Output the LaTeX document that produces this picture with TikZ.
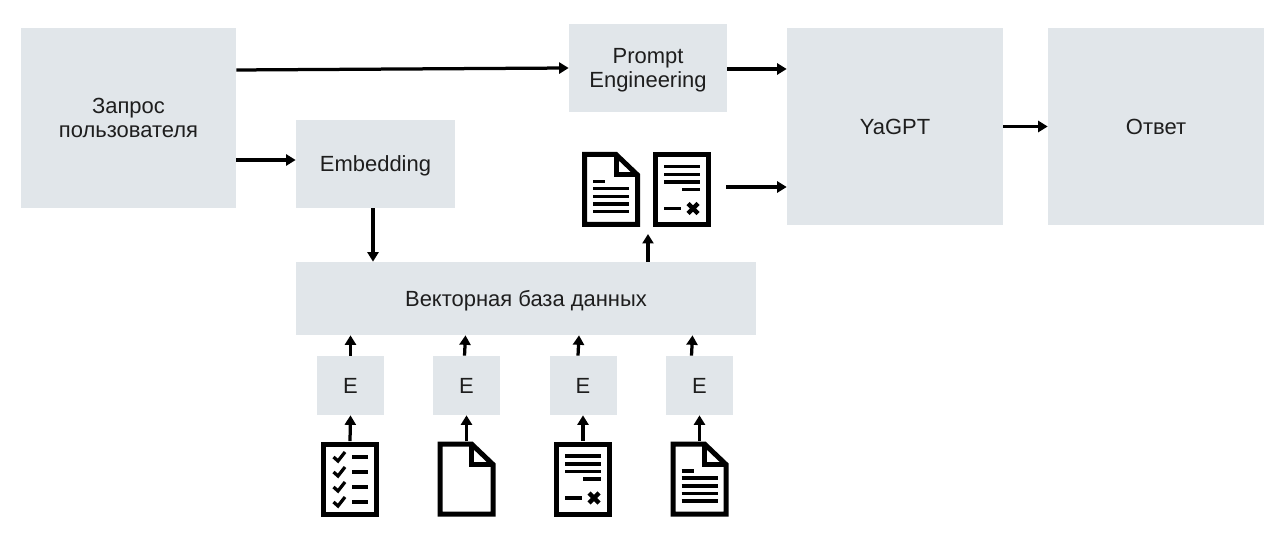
\documentclass[tikz,border=0pt]{standalone}
\usepackage{fontspec}
\setmainfont{Liberation Sans}
\usetikzlibrary{arrows.meta, calc, positioning}
\definecolor{boxgray}{RGB}{225,230,234}
\definecolor{textblack}{RGB}{30,30,30}

\tikzset{
    outline/.style={line width=0.1cm, miter limit=10},
    textline/.style={line width=0.07cm},
    iconbox/.style={minimum width=1.16cm, minimum height=1.5cm, inner sep=0pt},
    checklist/.pic={
        \node[iconbox] (-box) {};
        \draw[outline] (-26.5,-35) rectangle (26.5,35);
        \draw[textline] (2,-22) -- (18,-22);
        \draw[textline] (2,-7) -- (18,-7);
        \draw[textline] (2,8) -- (18,8);
        \draw[textline] (2,23) -- (18,23);
        \draw[line width=0.065cm] (-16.5,-22) -- (-12,-18) -- (-5,-27);
        \draw[line width=0.065cm] (-16.5,-7) -- (-12,-3) -- (-5,-12);
        \draw[line width=0.065cm] (-16.5,8) -- (-12,12) -- (-5,3);
        \draw[line width=0.065cm] (-16.5,23) -- (-12,27) -- (-5,18);
    },
    folded/.pic={
        \node[iconbox] (-box) {};
        \draw[outline] (-26.5,-35) -- (5,-35) -- (26.5,-14.5) -- (26.5,35) -- (-26.5,35) -- cycle;
        \draw[outline] (5,-35) -- (5,-14.5) -- (26.5,-14.5);
    },
    crossdoc/.pic={
        \node[iconbox] (-box) {};
        \draw[outline] (-26.5,-35) rectangle (26.5,35);
        \draw[textline] (-18,-23) -- (18,-23);
        \draw[textline] (-18,-15) -- (18,-15);
        \draw[textline] (-18,-7.5) -- (18,-7.5);
        \draw[textline] (0,0) -- (18,0);
        \draw[textline] (-18,19) -- (-1,19);
        \draw[line width=0.09cm] (6,14) -- (16,24);
        \draw[line width=0.09cm] (6,24) -- (16,14);
    },
    textdoc/.pic={
        \node[iconbox] (-box) {};
        \draw[outline] (-26.5,-35) -- (5,-35) -- (26.5,-14.5) -- (26.5,35) -- (-26.5,35) -- cycle;
        \draw[outline] (5,-35) -- (5,-14.5) -- (26.5,-14.5);
        \draw[textline] (-18,-8) -- (-6,-8);
        \draw[textline] (-18,-1) -- (18,-1);
        \draw[textline] (-18,7) -- (18,7);
        \draw[textline] (-18,14.5) -- (18,14.5);
        \draw[textline] (-18,22) -- (18,22);
    },
}

\begin{document}
\begin{tikzpicture}[
    x=0.02cm, y=-0.02cm,
    block/.style={fill=boxgray, inner sep=0pt, align=center, text=textblack,
        font=\fontsize{12.5}{13.8}\selectfont},
    ebox/.style={block, minimum width=1.34cm, minimum height=1.18cm},
    flow/.style={-{Triangle[length=0.19cm, width=0.22cm]}, line width=0.065cm},
]
\useasboundingbox (0,0) rectangle (1280,540);

% Main boxes
\node[block, minimum width=4.3cm, minimum height=3.6cm]   (query)     at (128.5,118)  {Запрос\\пользователя};
\node[block, minimum width=3.16cm, minimum height=1.76cm, text depth=0pt] (prompt)    at (648,68)     {Prompt\\Engineering};
\node[block, minimum width=4.32cm, minimum height=3.94cm] (yagpt)     at (895,126.5)  {YaGPT};
\node[block, minimum width=4.32cm, minimum height=3.94cm] (answer)    at (1156,126.5) {Ответ};
\node[block, minimum width=3.18cm, minimum height=1.76cm, text depth=0pt] (embedding) at (375.5,164)  {Embedding};
\node[block, minimum width=9.2cm, minimum height=1.46cm, text depth=0pt]  (vectordb)  at (526,298.5)  {Векторная база данных};

% Embedding steps
\node[ebox] (e1) at (350.5,385.5) {E};
\node[ebox] (e2) at (466.5,385.5) {E};
\node[ebox] (e3) at (583,385.5)   {E};
\node[ebox] (e4) at (699.5,385.5) {E};

% Source documents, bottom row
\pic (doc1) at (350,479)   {checklist};
\pic (doc2) at (466.5,479) {folded};
\pic (doc3) at (583,479)   {crossdoc};
\pic (doc4) at (699.5,479) {textdoc};

% Retrieved documents
\pic (found1) at (611,189.5) {textdoc};
\pic (found2) at (682,189.5) {crossdoc};
\coordinate (foundin)  at (648,234);
\coordinate (foundout) at (726,187);

% Top-row arrows
\draw[flow] (query.east |- 0,70) -- (prompt.west);
\draw[flow] ([yshift=-0.02cm]prompt.east) -- ([yshift=-0.02cm]prompt.east -| yagpt.west);
\draw[flow] (query.east |- 0,160) -- (embedding.west |- 0,160);
\draw[flow] (foundout) -- (foundout -| yagpt.west);
\draw[flow] (yagpt.east) -- (answer.west);

% Database arrows
\draw[flow] (373,0 |- embedding.south) -- (373,0 |- vectordb.north);
\draw[flow] (foundin |- vectordb.north) -- (foundin);

% Document to database arrows
\draw[flow] (doc1-box.north) -- (e1.south);
\draw[flow] (doc2-box.north) -- (e2.south);
\draw[flow] (doc3-box.north) -- (e3.south);
\draw[flow] (doc4-box.north) -- (e4.south);
\draw[flow] (e1.north) -- (e1.north |- vectordb.south);
\draw[flow] ([xshift=-0.04cm]e2.north) -- ([xshift=-0.02cm]e2.north |- vectordb.south);
\draw[flow] ([xshift=-0.1cm]e3.north) -- ([xshift=-0.08cm]e3.north |- vectordb.south);
\draw[flow] ([xshift=-0.16cm]e4.north) -- ([xshift=-0.14cm]e4.north |- vectordb.south);
\end{tikzpicture}
\end{document}
